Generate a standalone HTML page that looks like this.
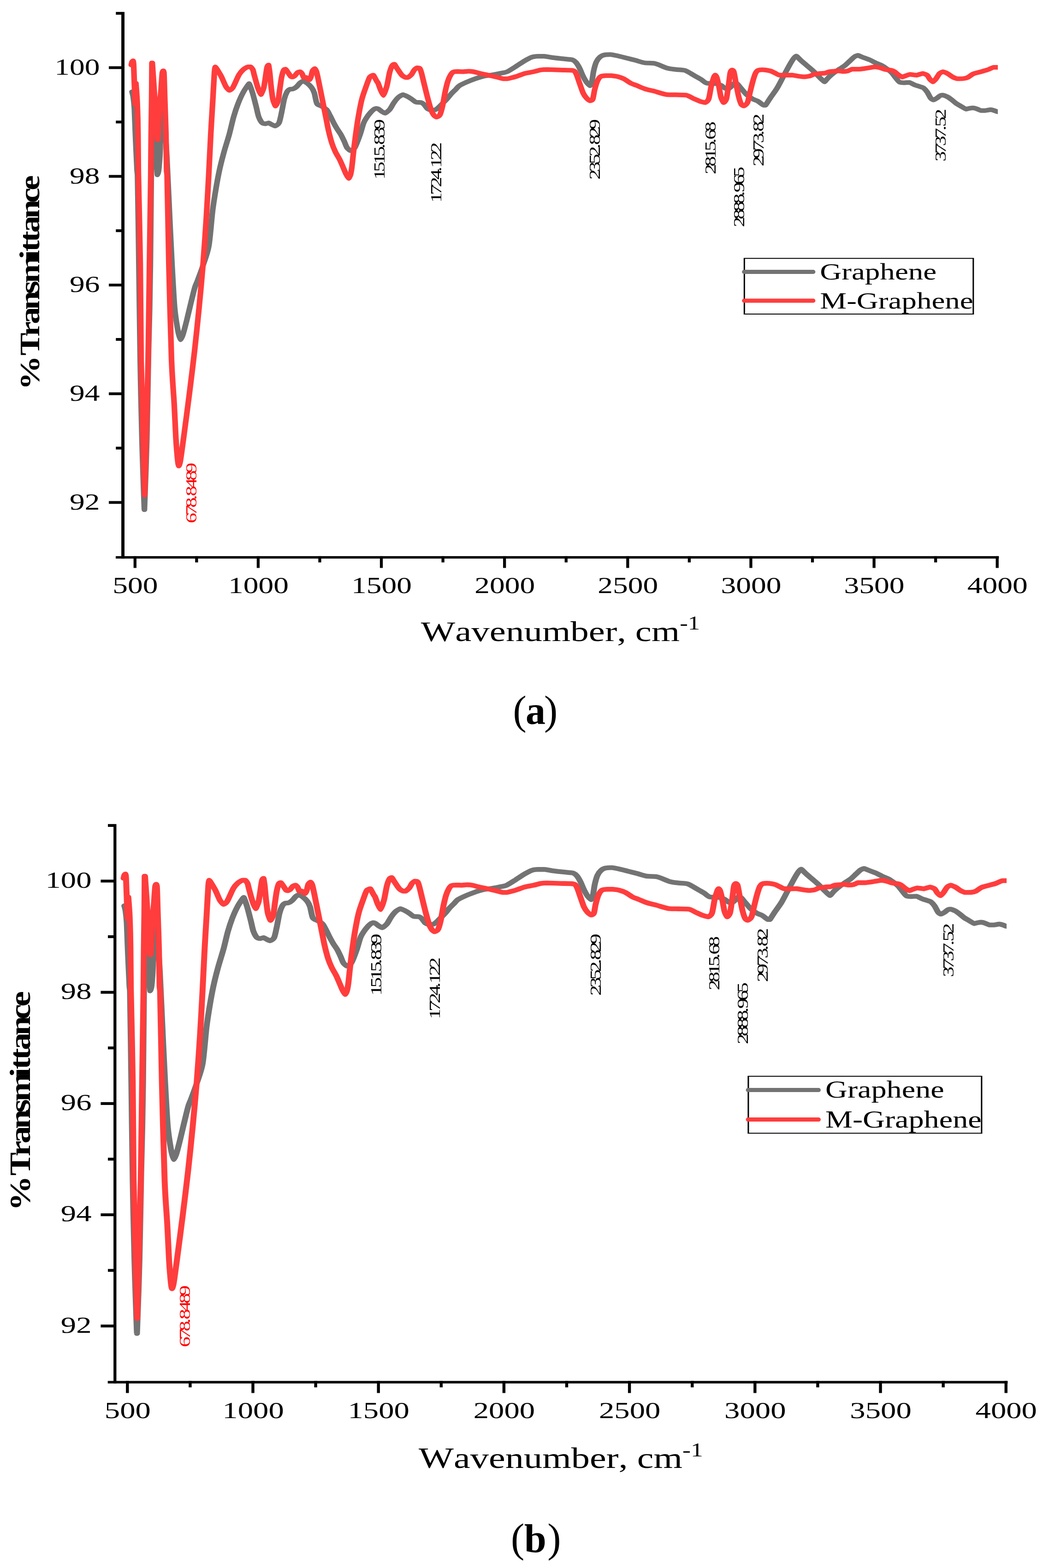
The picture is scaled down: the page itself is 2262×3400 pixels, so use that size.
<!DOCTYPE html>
<html lang="en"><head><meta charset="utf-8"><title>FTIR spectra of Graphene and M-Graphene</title>
<style>
html,body{margin:0;padding:0;background:#fff}
body{width:2262px;height:3400px;overflow:hidden}
svg{display:block}
text{font-family:"Liberation Serif","Times New Roman",serif;white-space:pre;font-kerning:none;font-variant-ligatures:none}
</style></head>
<body>
<svg width="2262" height="3400" viewBox="0 0 2262 3400">
<rect width="2262" height="3400" fill="#fff"/>
<clipPath id="clipa"><rect x="270" y="18.85" width="1894" height="1188.5"/></clipPath>
<g clip-path="url(#clipa)"><g transform="scale(1.23 1)" fill="none" stroke-width="10" stroke-linejoin="round" stroke-linecap="round">
<path stroke="#737373" d="M232.76 199.1C233.1 200.77 234.21 204.17 234.8 209.1C235.38 214.03 236.35 222.25 236.91 233.9C237.47 245.54 238.11 272.32 238.78 291.3C239.45 310.28 241.1 357.62 241.63 367.9C242.16 378.19 242.06 369.72 242.52 380C242.98 390.29 244.21 514.62 244.88 571.3C245.55 627.98 246.46 726.27 247.24 780.1C248.01 833.93 249.28 905.23 250.33 951.3C251.37 997.37 254.39 1105.3 254.63 1105.3C254.88 1105.3 257.83 1000.22 258.86 951.3C259.9 902.38 261.25 800.28 261.95 760C262.65 719.72 263.37 693.73 263.82 667C264.27 640.27 264.72 611.96 265.12 571.3C265.53 530.64 266.28 419.67 266.67 380C267.06 340.33 267.49 309.28 267.89 291.3C268.28 273.32 269.29 253.1 269.43 253.1C269.57 253.1 271.91 277.76 272.85 291.3C273.78 304.84 275.35 336.23 276.02 348.7C276.68 361.17 277.45 379.3 277.56 379.3C277.67 379.3 279.18 374.94 279.84 367.9C280.49 360.86 281.77 340.45 282.2 329.6C282.62 318.75 282.51 302.14 282.85 291.3C283.18 280.46 283.94 262.58 284.55 253.1C285.16 243.62 287.02 224.4 287.15 224.4C287.29 224.4 288.57 243.62 289.19 253.1C289.81 262.58 290.84 279.1 291.54 291.3C292.25 303.5 293.04 313.08 294.15 339.2C295.25 365.32 298.07 442.82 299.35 475.7C300.63 508.58 301.96 544.2 303.17 571.3C304.38 598.4 306.44 646.67 307.89 667C309.33 687.33 311.94 704.91 313.38 714.8C314.82 724.69 317.79 736.8 318.06 736.8C318.32 736.8 321.26 730.22 322.81 724.4C324.37 718.58 327.27 704.37 329.05 695.7C330.83 687.03 333.37 673.23 335.37 663.2C337.36 653.17 341.38 632.49 343.15 624.9C344.93 617.31 345.8 616.64 347.92 609.6C350.03 602.56 355.21 586.04 358.09 575.2C360.97 564.36 365.88 549.92 368.26 533.1C370.64 516.28 373.12 474.12 374.9 456.5C376.68 438.88 379.08 421.25 380.81 408.7C382.55 396.15 385.13 379.11 387.13 367.9C389.13 356.69 392.54 340.45 394.96 329.6C397.38 318.75 401.81 302.14 404.23 291.3C406.65 280.46 409.82 262.58 412.03 253.1C414.24 243.62 417.41 231.99 419.84 224.4C422.27 216.81 426.43 205.61 429.19 199.5C431.94 193.39 438.81 181.3 439.27 181.3C439.72 181.3 443.56 194.49 445.28 201.4C447.01 208.31 449.93 222.78 451.46 230.1C453 237.42 454.55 247.94 456.1 253.1C457.64 258.26 460.7 264.89 462.36 266.5C464.02 268.11 467.48 268.4 467.8 268.4C468.13 268.4 473.65 266.5 473.98 266.5C474.31 266.5 477.89 269.35 479.43 270.3C480.97 271.25 484.52 273.2 484.88 273.2C485.23 273.2 490.29 270.71 491.95 266.5C493.61 262.29 495.27 250.82 496.59 243.5C497.9 236.18 499.89 221.03 501.22 214.8C502.54 208.57 504.61 202.47 505.93 199.5C507.26 196.52 509.03 194.65 510.57 193.8C512.11 192.95 515.07 193.62 516.83 192.8C518.59 191.98 521.25 189.9 523.01 188C524.77 186.1 527.61 181.16 529.27 179.4C530.93 177.64 534.36 175.6 534.72 175.6C535.07 175.6 539.62 178.37 541.71 180.4C543.79 182.43 547.67 186.92 549.43 189.9C551.19 192.87 552.82 196.51 554.15 201.4C555.47 206.29 557.02 220.33 558.78 224.4C560.54 228.47 564.16 228.2 566.59 230.1C569.02 232 573.74 234.82 575.93 237.8C578.13 240.77 580.35 247.03 582.11 251.1C583.88 255.17 586.61 262.43 588.37 266.5C590.14 270.57 592.79 276.29 594.55 279.8C596.32 283.31 599.05 287.5 600.81 291.3C602.58 295.1 605.45 302.53 606.99 306.6C608.54 310.67 610.16 317.15 611.71 320C613.25 322.85 617.49 326.7 617.89 326.7C618.28 326.7 623.26 325.02 625.69 320C628.12 314.99 632.84 298.88 635.04 291.3C637.24 283.72 639.46 271.91 641.22 266.5C642.98 261.09 645.72 256.36 647.48 253.1C649.24 249.84 652.12 245.67 653.66 243.5C655.2 241.33 657.05 239.02 658.37 237.8C659.7 236.58 662.77 234.9 663.01 234.9C663.24 234.9 665.26 235.04 666.67 235.8C668.07 236.56 671.16 240.24 672.93 241.6C674.69 242.96 678.71 245.4 679.11 245.4C679.5 245.4 684.71 241.06 686.91 237.8C689.11 234.54 692.43 226.2 694.63 222.4C696.83 218.6 700.23 213.44 702.44 211C704.65 208.56 709.8 205.2 710.24 205.2C710.68 205.2 715.77 207.74 717.97 209.1C720.17 210.46 723.56 213.04 725.77 214.8C727.98 216.56 731.15 220.73 733.58 221.5C736.01 222.27 740.95 221.72 742.93 222.4C744.91 223.08 746.03 224.4 747.56 226.3C749.09 228.2 751.98 234.04 753.74 235.8C755.5 237.56 759.6 238.7 760 238.7C760.4 238.7 766.04 238.48 767.8 237.8C769.57 237.12 770.9 235.53 772.44 233.9C773.98 232.27 776.5 229.01 778.7 226.3C780.9 223.59 785.55 218.06 787.97 214.8C790.39 211.54 793.56 206.28 795.77 203.3C797.98 200.33 801.6 196.24 803.58 193.8C805.56 191.36 807.12 188.28 809.76 186.1C812.39 183.92 818.22 180.57 822.2 178.4C826.17 176.23 833.39 172.68 837.8 170.8C842.22 168.92 848.93 166.32 853.33 165.1C857.73 163.88 864.45 163.15 868.86 162.2C873.27 161.25 880.87 159.35 884.47 158.4C888.08 157.45 890.72 157.54 894.31 155.5C897.9 153.46 905.43 147.39 909.84 144C914.25 140.61 921.47 134.45 925.45 131.6C929.42 128.75 934.8 125.26 937.89 123.9C940.97 122.54 946.62 122 947.24 122C947.85 122 958.97 122 959.67 122C960.38 122 968.15 123.82 972.11 124.5C976.08 125.18 983.24 126.2 987.64 126.8C992.04 127.39 1000.08 128.29 1003.17 128.7C1006.26 129.11 1007.67 128.85 1009.43 129.7C1011.19 130.55 1013.85 132.84 1015.61 135.4C1017.37 137.96 1020.11 143.59 1021.87 147.8C1023.63 152.01 1026.29 160.76 1028.05 165.1C1029.81 169.43 1032.55 175.43 1034.31 178.4C1036.07 181.38 1040.22 186.1 1040.49 186.1C1040.75 186.1 1042.77 181.1 1043.66 176.5C1044.55 171.9 1045.65 159.56 1046.75 153.6C1047.84 147.64 1049.84 138.61 1051.38 134.4C1052.93 130.19 1055.65 126.07 1057.64 123.9C1059.63 121.73 1062.8 119.87 1065.45 119.1C1068.1 118.33 1075.68 118.2 1076.34 118.2C1077 118.2 1084.82 119.92 1088.78 121C1092.74 122.08 1099.91 124.44 1104.31 125.8C1108.71 127.16 1115.14 129.1 1119.84 130.6C1124.54 132.1 1132.77 135.64 1137.48 136.4C1142.19 137.16 1147.57 136.53 1153.09 137.3C1158.61 138.06 1170.92 145.9 1176.42 147.8C1181.93 149.7 1187.55 150.02 1191.95 150.7C1196.35 151.38 1203.07 150.99 1207.48 152.6C1211.89 154.21 1219.12 160.39 1223.09 163.1C1227.06 165.81 1232.22 169.25 1235.53 171.7C1238.83 174.15 1242.68 179.63 1246.42 180.4C1250.17 181.17 1258.43 180.63 1261.95 181.3C1265.48 181.97 1268.88 183.61 1271.3 185.1C1273.72 186.59 1277.26 190.95 1279.02 191.8C1280.79 192.65 1283.43 192.8 1283.74 192.8C1284.05 192.8 1288.38 188.86 1289.92 187.1C1291.46 185.34 1294.37 180.4 1294.63 180.4C1294.9 180.4 1297.72 180.54 1299.27 181.3C1300.81 182.07 1303.1 186.51 1305.53 189.9C1307.96 193.29 1313.34 201.67 1316.42 205.2C1319.51 208.73 1324.46 212.76 1327.32 214.8C1330.17 216.84 1333.95 217.7 1336.59 219.6C1339.22 221.5 1345.57 228.2 1345.93 228.2C1346.3 228.2 1349.22 228.2 1349.59 228.2C1349.96 228.2 1356.08 216.16 1358.94 211C1361.81 205.84 1366.75 198.03 1369.84 191.8C1372.92 185.57 1377.64 174.04 1380.73 167C1383.82 159.96 1388.99 147.8 1391.63 142.1C1394.26 136.41 1397.59 129.73 1399.35 126.8C1401.11 123.87 1403.71 121.4 1404.07 121.4C1404.42 121.4 1409.15 127.67 1411.79 130.6C1414.43 133.53 1419.6 138.84 1422.68 142.1C1425.77 145.36 1430.27 149.8 1433.58 153.6C1436.88 157.4 1443.15 165.51 1446.02 168.9C1448.88 172.29 1453.38 177.5 1453.82 177.5C1454.26 177.5 1459.21 169.85 1461.63 167C1464.04 164.15 1468.26 159.85 1470.89 157.4C1473.53 154.95 1477.59 151.87 1480.24 149.7C1482.89 147.53 1486.94 144.66 1489.59 142.1C1492.24 139.54 1496.52 134.31 1498.94 131.6C1501.36 128.89 1504.69 124.63 1506.67 123C1508.65 121.37 1512.53 120.1 1512.93 120.1C1513.33 120.1 1517.86 122.54 1520.73 123.9C1523.6 125.26 1529.87 127.93 1533.17 129.7C1536.48 131.47 1540.98 134.64 1544.07 136.4C1547.15 138.16 1552.1 140.22 1554.96 142.1C1557.82 143.98 1561.81 147.53 1564.23 149.7C1566.65 151.87 1569.83 154.62 1572.03 157.4C1574.23 160.18 1577.69 166.32 1579.76 169.3C1581.82 172.27 1584.52 177.55 1586.59 178.4C1588.65 179.25 1593.83 179.4 1594.31 179.4C1594.79 179.4 1603.13 178.8 1603.66 178.8C1604.19 178.8 1610.36 182.9 1613.01 184.2C1615.66 185.5 1620.16 187.05 1622.36 188C1624.56 188.95 1626.77 189.27 1628.54 190.9C1630.3 192.53 1633.03 196.38 1634.8 199.5C1636.56 202.62 1639.43 210.46 1640.98 212.9C1642.52 215.34 1645.38 216.7 1645.69 216.7C1646 216.7 1650.11 214.26 1651.87 212.9C1653.63 211.54 1656.59 207.87 1658.13 207.1C1659.67 206.33 1662.41 206.2 1662.76 206.2C1663.12 206.2 1668.36 208.51 1670.57 210C1672.78 211.49 1676.17 214.66 1678.37 216.7C1680.57 218.74 1683.9 222.5 1686.1 224.4C1688.3 226.3 1691.47 228.34 1693.9 230.1C1696.33 231.86 1702.81 236.8 1703.25 236.8C1703.69 236.8 1707.67 235.31 1709.43 234.9C1711.19 234.49 1715.34 233.9 1715.69 233.9C1716.04 233.9 1719.89 234.98 1721.87 235.8C1723.85 236.62 1729.23 239.7 1729.67 239.7C1730.12 239.7 1737 239.7 1737.48 239.7C1737.96 239.7 1746.31 237.8 1746.75 237.8C1747.19 237.8 1751.23 239.03 1753.01 239.7C1754.78 240.37 1757.07 241.96 1759.27 242.5C1761.47 243.04 1766.99 243.33 1768.54 243.5"/>
<path stroke="#ff3d3d" d="M231.46 140.8C231.68 139.73 232.34 135.68 232.76 134.4C233.19 133.13 234.39 131.8 234.47 131.8C234.55 131.8 235.21 132.78 235.53 138.3C235.85 143.83 236.34 164.03 236.75 176.5C237.15 188.97 238.31 226.3 238.37 226.3C238.44 226.3 238.77 213.6 238.94 207.1C239.12 200.6 239.54 180.4 239.59 180.4C239.65 180.4 240.48 193.55 240.81 199.5C241.15 205.45 241.66 214.27 241.95 222.4C242.24 230.53 242.65 247.14 242.85 256.9C243.04 266.66 243.18 275.58 243.33 291.3C243.48 307.03 243.8 357.62 243.9 367.9C244.01 378.19 243.93 369.72 244.07 380C244.2 390.29 246.57 514.62 247.24 571.3C247.9 627.98 248.19 731.68 248.78 780.1C249.37 828.52 250.51 871.49 251.38 913.1C252.26 954.71 254.76 1073.8 254.96 1073.8C255.16 1073.8 257.65 954.71 258.54 913.1C259.42 871.49 260.51 828.52 261.22 780.1C261.93 731.68 262.92 627.98 263.58 571.3C264.23 514.62 265.44 419.67 265.85 380C266.27 340.33 266.29 314.7 266.5 291.3C266.72 267.9 267.2 236.74 267.4 214.8C267.59 192.86 267.85 136.4 267.89 136.4C267.92 136.4 268.43 136.4 268.54 136.4C268.65 136.4 271.61 191.23 272.85 214.8C274.08 238.37 277.08 302.8 277.24 302.8C277.39 302.8 278.21 302.8 278.29 302.8C278.37 302.8 279.42 274.8 280 262.6C280.58 250.4 281.8 226.18 282.36 216.7C282.91 207.22 283.35 204.1 283.9 195.7C284.46 187.3 285.68 160.8 286.26 157.4C286.84 154 287.89 153.4 287.97 153.4C288.05 153.4 288.66 154 289.02 157.4C289.39 160.8 290.06 195.83 290.57 214.8C291.08 233.77 292.15 269.61 292.6 291.3C293.05 312.99 293.45 357.62 293.74 367.9C294.03 378.19 294.07 369.72 294.63 380C295.2 390.29 296.62 514.62 297.72 571.3C298.83 627.98 301.11 737.1 302.44 780.1C303.76 823.1 305.98 850.55 307.07 874.8C308.17 899.05 309.29 933.68 310.18 951.3C311.07 968.92 312.66 990.8 313.38 999.2C314.1 1007.6 315.14 1010.6 315.27 1010.6C315.4 1010.6 316.88 1007.6 318.06 999.2C319.23 990.8 321.33 971.63 323.55 951.3C325.77 930.97 330.95 882.8 333.72 855.7C336.5 828.6 340.7 786.73 343.15 760C345.61 733.27 348.92 693.73 351.03 667C353.15 640.27 356.31 598.4 358.09 571.3C359.87 544.2 362.18 502.8 363.59 475.7C364.99 448.6 366.88 406.12 368.02 380C369.16 353.88 370.59 314.7 371.63 291.3C372.66 267.9 374.41 233.77 375.32 214.8C376.22 195.83 377.42 167.29 378.02 157.4C378.63 147.51 379.45 145 379.58 145C379.7 145 380.94 146.73 382.45 149.7C383.96 152.68 388.03 160.7 390.24 166C392.45 171.3 396.07 182.85 398.05 187.1C400.03 191.35 403.88 196 404.23 196C404.58 196 408.06 194.69 410.49 189.9C412.92 185.11 418.73 167.75 421.38 162.2C424.03 156.65 426.99 153.14 429.19 150.7C431.39 148.26 436.54 145 436.91 145C437.28 145 441.86 145 442.11 145C442.37 145 445.13 149.14 446.02 151.7C446.9 154.26 447.16 157.69 448.37 163.1C449.58 168.51 452.91 183.94 454.55 189.9C456.2 195.86 459.71 205.2 460 205.2C460.29 205.2 463.72 195.87 464.72 191.8C465.71 187.73 466.12 183 466.99 176.5C467.87 170 469.96 149.98 470.89 145.9C471.83 141.82 473.44 141.1 473.58 141.1C473.71 141.1 475 151.03 475.61 157.4C476.22 163.78 477.11 177.97 477.89 186.1C478.66 194.23 479.95 208.57 481.06 214.8C482.16 221.03 485.43 230.1 485.69 230.1C485.95 230.1 489.22 224.03 490.33 218.6C491.43 213.17 492.61 199.11 493.5 191.8C494.38 184.49 495.59 172.68 496.59 167C497.58 161.32 499.5 153.06 500.49 151.7C501.48 150.34 503.34 150.1 503.58 150.1C503.82 150.1 507.7 157.05 509.02 159.3C510.35 161.55 511.94 165.15 512.93 166C513.92 166.85 515.82 167 516.02 167C516.21 167 518.71 165.46 519.92 164.1C521.13 162.74 523.23 158.62 524.55 157.4C525.88 156.18 529.05 155.5 529.27 155.5C529.49 155.5 531.48 157.54 532.36 159.3C533.23 161.06 535.23 167.9 535.45 167.9C535.67 167.9 539.94 167.9 540.16 167.9C540.38 167.9 542.38 171.02 543.25 171.7C544.13 172.38 546.19 172.7 546.34 172.7C546.5 172.7 548.03 167.81 548.7 165.1C549.37 162.39 550.18 155.91 551.06 153.6C551.93 151.29 554.68 148.8 554.88 148.8C555.08 148.8 557.06 151.58 558.05 155.5C559.04 159.42 560.44 168.1 561.87 176.5C563.3 184.9 566.36 203.95 568.13 214.8C569.9 225.65 572.85 243.61 574.39 253.1C575.93 262.59 577.49 273.67 579.02 281.8C580.56 289.93 583.44 303.73 585.2 310.5C586.97 317.27 589.47 324.46 591.46 329.6C593.46 334.74 597.29 341.93 599.27 346.8C601.25 351.67 603.9 359.67 605.45 364C606.99 368.34 608.84 374.14 610.16 377.4C611.49 380.66 614.58 387 614.8 387C615.02 387 617.11 382.56 617.89 379.3C618.66 376.04 619.47 371.04 620.24 364C621.02 356.96 622.34 339.9 623.33 329.6C624.32 319.3 626.03 302.14 627.24 291.3C628.45 280.46 630.33 263.94 631.87 253.1C633.41 242.26 636.14 224.29 638.13 214.8C640.12 205.31 643.95 192.87 645.93 186.1C647.92 179.33 650.35 170.26 652.11 167C653.88 163.74 658.02 163.1 658.37 163.1C658.73 163.1 663.38 174.05 664.55 176.5C665.73 178.95 665.71 177.68 666.67 180.4C667.62 183.12 669.98 191.92 671.3 195.7C672.63 199.48 675.71 207.1 676.02 207.1C676.32 207.1 680.65 193.14 682.2 186.1C683.74 179.06 685.59 163.63 686.91 157.4C688.24 151.17 690.34 144.57 691.54 142.1C692.75 139.63 695.18 139.2 695.45 139.2C695.71 139.2 699.02 146.31 700.89 149.7C702.77 153.09 706.72 160.52 708.7 163.1C710.68 165.68 714.57 167.9 714.88 167.9C715.19 167.9 719.28 167.9 719.59 167.9C719.9 167.9 724.24 163.49 725.77 161.2C727.3 158.9 729.08 153.73 730.41 151.7C731.73 149.67 734.86 146.9 735.12 146.9C735.39 146.9 738.65 147.03 739.76 147.8C740.86 148.57 741.82 152.78 742.93 157.4C744.03 162.02 746.03 172.81 747.56 180.4C749.09 187.99 751.98 202.87 753.74 211C755.5 219.13 758.46 232.39 760 237.8C761.54 243.21 763.31 246.9 764.63 249.2C765.96 251.49 769.04 254 769.35 254C769.66 254 773.99 252.59 775.53 249.2C777.07 245.81 778.92 237.14 780.24 230.1C781.57 223.06 783.57 207.09 784.88 199.5C786.19 191.91 788.19 181.66 789.51 176.5C790.84 171.34 792.9 165.95 794.23 163.1C795.55 160.25 797.1 157.51 798.86 156.4C800.62 155.29 806.18 155.1 806.67 155.1C807.15 155.1 815.49 155.5 816.02 155.5C816.55 155.5 824.84 154.5 825.37 154.5C825.89 154.5 831.78 154.88 834.63 155.5C837.49 156.12 841.77 157.82 845.53 158.9C849.28 159.98 856.95 161.95 861.14 163.1C865.33 164.25 871.38 165.91 875.12 167C878.87 168.09 887.02 170.8 887.56 170.8C888.1 170.8 893.68 170.8 894.31 170.8C894.94 170.8 905.43 167.63 909.84 166C914.25 164.37 921.04 160.79 925.45 159.3C929.86 157.81 937.01 156.58 940.98 155.5C944.94 154.42 950.11 152.38 953.41 151.7C956.72 151.02 963.34 150.7 964.31 150.7C965.28 150.7 981.25 151.43 987.64 151.7C994.03 151.97 1005.47 151.84 1009.43 152.6C1013.39 153.36 1013.85 155.36 1015.61 159.3C1017.37 163.24 1020.11 174.44 1021.87 180.4C1023.63 186.36 1026.29 196.8 1028.05 201.4C1029.81 206 1032.55 210.46 1034.31 212.9C1036.07 215.34 1040.18 218.6 1040.49 218.6C1040.8 218.6 1044.1 218.03 1045.2 214.8C1046.31 211.57 1047.19 201.13 1048.29 195.7C1049.4 190.27 1051.46 180.71 1053.01 176.5C1054.55 172.29 1056.99 167.62 1059.19 166C1061.39 164.39 1068.01 164.1 1068.54 164.1C1069.07 164.1 1077.31 164.1 1077.89 164.1C1078.46 164.1 1085.69 165.05 1088.78 166C1091.87 166.95 1096.37 168.76 1099.67 170.8C1102.98 172.84 1108.96 178.37 1112.11 180.4C1115.27 182.43 1118.36 183.34 1121.95 185.1C1125.54 186.86 1133.07 191.03 1137.48 192.8C1141.89 194.57 1147.57 195.84 1153.09 197.6C1158.61 199.36 1170.92 204.86 1176.42 205.2C1181.93 205.54 1187.33 205.46 1191.95 205.6C1196.57 205.74 1204.61 205.69 1209.02 206.2C1213.44 206.71 1219.55 211.9 1223.09 213.8C1226.63 215.7 1231.13 218.38 1233.98 219.6C1236.84 220.82 1242.81 222.4 1243.25 222.4C1243.69 222.4 1247.97 219.94 1249.51 214.8C1251.06 209.66 1252.87 192.74 1254.15 186.1C1255.42 179.46 1257.55 171.2 1258.54 167.9C1259.53 164.6 1260.99 162.8 1261.14 162.8C1261.29 162.8 1262.93 164.6 1263.82 167.9C1264.71 171.2 1266.34 179.99 1267.4 186.1C1268.46 192.21 1270.09 205.86 1271.3 211C1272.51 216.14 1275.67 222.4 1275.93 222.4C1276.2 222.4 1279.44 219.94 1280.65 214.8C1281.86 209.66 1283.48 194.23 1284.47 186.1C1285.46 177.97 1286.76 162.25 1287.64 157.4C1288.53 152.56 1290.56 151.7 1290.73 151.7C1290.91 151.7 1292.83 152.27 1293.82 155.5C1294.81 158.73 1296.51 172.81 1297.72 180.4C1298.93 187.99 1301.03 202.6 1302.36 209.1C1303.68 215.6 1305.75 223.41 1307.07 226.3C1308.4 229.19 1311.4 229.7 1311.71 229.7C1312.02 229.7 1316.42 226.68 1317.97 222.4C1319.51 218.12 1321.28 206 1322.6 199.5C1323.93 193 1325.99 182.19 1327.32 176.5C1328.64 170.81 1330.64 162.69 1331.95 159.3C1333.26 155.91 1334.82 153.7 1336.59 152.6C1338.35 151.49 1344.02 151.3 1344.39 151.3C1344.76 151.3 1347.53 151.36 1349.59 151.7C1351.66 152.04 1356.52 153.05 1358.94 154C1361.36 154.95 1364.47 157.15 1366.67 158.4C1368.87 159.65 1371.82 162.55 1374.47 162.8C1377.12 163.06 1384.75 163.1 1385.37 163.1C1385.98 163.1 1395.6 162.8 1396.26 162.8C1396.92 162.8 1405.61 164.86 1408.7 165.4C1411.79 165.94 1417.52 166.6 1418.05 166.6C1418.58 166.6 1424.98 165.86 1427.4 165.1C1429.82 164.33 1432.48 162.02 1435.12 161.2C1437.76 160.38 1443.15 159.7 1446.02 159.3C1448.88 158.9 1453.15 158.94 1455.37 158.4C1457.58 157.86 1459.43 156.05 1461.63 155.5C1463.83 154.95 1468.48 154.77 1470.89 154.5C1473.31 154.23 1478.26 153.6 1478.7 153.6C1479.14 153.6 1486.06 155.1 1486.5 155.1C1486.94 155.1 1492.03 154.81 1494.23 154.1C1496.43 153.39 1501.46 150.1 1502.03 150.1C1502.61 150.1 1513.85 150.1 1514.47 150.1C1515.09 150.1 1521.17 149.25 1523.82 148.8C1526.47 148.35 1530.53 147.44 1533.17 146.9C1535.81 146.36 1541.91 145 1542.44 145C1542.97 145 1549.14 146.09 1551.79 146.9C1554.44 147.71 1558.27 149.89 1561.14 150.7C1564.01 151.51 1569.75 151.92 1572.03 152.6C1574.31 153.28 1575.39 154.01 1577.24 155.5C1579.08 156.99 1583.06 161.47 1585.04 163.1C1587.02 164.73 1590.87 167 1591.22 167C1591.57 167 1595.6 164.92 1597.48 164.1C1599.36 163.28 1603.94 161.2 1604.47 161.2C1605 161.2 1615.46 163.1 1616.1 163.1C1616.74 163.1 1626.46 159.3 1626.99 159.3C1627.52 159.3 1633.03 161.34 1634.8 163.1C1636.56 164.86 1638 169.66 1639.43 171.7C1640.86 173.74 1644.57 177.5 1644.88 177.5C1645.19 177.5 1648.67 173.38 1650.33 170.8C1651.98 168.22 1654.82 161.47 1656.59 159.3C1658.35 157.13 1662.37 155.5 1662.76 155.5C1663.16 155.5 1668.14 157.67 1670.57 159.3C1673 160.93 1677.5 165.37 1679.92 167C1682.34 168.63 1687.11 170.8 1687.64 170.8C1688.17 170.8 1695.89 170.74 1698.54 170.4C1701.19 170.06 1703.91 169.33 1706.34 167.9C1708.77 166.47 1712.82 161.93 1715.69 160.3C1718.56 158.67 1723.06 157.62 1726.59 156.4C1730.11 155.18 1737.04 153.19 1740.57 151.7C1744.09 150.21 1750.93 145.9 1751.46 145.9C1751.99 145.9 1758.78 145.9 1759.27 145.9C1759.75 145.9 1766.99 145.9 1768.54 145.9"/>
</g></g>
<g fill="#000">
<rect x="263.1" y="25.85" width="6.9" height="1185.35"/>
<rect x="251" y="1205.9" width="1915.3" height="5.3"/>
<rect x="236" y="1086.5" width="28.1" height="6"/>
<rect x="251.3" y="968.65" width="12.8" height="6"/>
<rect x="236" y="850.8" width="28.1" height="6"/>
<rect x="251.3" y="732.95" width="12.8" height="6"/>
<rect x="236" y="615.1" width="28.1" height="6"/>
<rect x="251.3" y="497.25" width="12.8" height="6"/>
<rect x="236" y="379.4" width="28.1" height="6"/>
<rect x="251.3" y="261.55" width="12.8" height="6"/>
<rect x="236" y="143.7" width="28.1" height="6"/>
<rect x="251.3" y="25.85" width="12.8" height="6"/>
<rect x="289.65" y="1205.9" width="6.3" height="25.6"/>
<rect x="423.22" y="1205.9" width="6.3" height="13.6"/>
<rect x="556.78" y="1205.9" width="6.3" height="25.6"/>
<rect x="690.35" y="1205.9" width="6.3" height="13.6"/>
<rect x="823.91" y="1205.9" width="6.3" height="25.6"/>
<rect x="957.48" y="1205.9" width="6.3" height="13.6"/>
<rect x="1091.04" y="1205.9" width="6.3" height="25.6"/>
<rect x="1224.6" y="1205.9" width="6.3" height="13.6"/>
<rect x="1358.17" y="1205.9" width="6.3" height="25.6"/>
<rect x="1491.73" y="1205.9" width="6.3" height="13.6"/>
<rect x="1625.3" y="1205.9" width="6.3" height="25.6"/>
<rect x="1758.86" y="1205.9" width="6.3" height="13.6"/>
<rect x="1892.43" y="1205.9" width="6.3" height="25.6"/>
<rect x="2025.99" y="1205.9" width="6.3" height="13.6"/>
<rect x="2159.56" y="1205.9" width="6.3" height="25.6"/>
</g>
<g font-family="'Liberation Serif', 'Times New Roman', serif">
<text transform="translate(293.3 1286) scale(1.31 1)" font-size="50" text-anchor="middle" fill="#000">500</text>
<text transform="translate(560.43 1286) scale(1.31 1)" font-size="50" text-anchor="middle" fill="#000">1000</text>
<text transform="translate(827.56 1286) scale(1.31 1)" font-size="50" text-anchor="middle" fill="#000">1500</text>
<text transform="translate(1094.69 1286) scale(1.31 1)" font-size="50" text-anchor="middle" fill="#000">2000</text>
<text transform="translate(1361.82 1286) scale(1.31 1)" font-size="50" text-anchor="middle" fill="#000">2500</text>
<text transform="translate(1628.95 1286) scale(1.31 1)" font-size="50" text-anchor="middle" fill="#000">3000</text>
<text transform="translate(1896.08 1286) scale(1.31 1)" font-size="50" text-anchor="middle" fill="#000">3500</text>
<text transform="translate(2163.21 1286) scale(1.31 1)" font-size="50" text-anchor="middle" fill="#000">4000</text>
<text transform="translate(216.5 1104.7) scale(1.31 1)" font-size="50" text-anchor="end" fill="#000">92</text>
<text transform="translate(216.5 869) scale(1.31 1)" font-size="50" text-anchor="end" fill="#000">94</text>
<text transform="translate(216.5 633.3) scale(1.31 1)" font-size="50" text-anchor="end" fill="#000">96</text>
<text transform="translate(216.5 397.6) scale(1.31 1)" font-size="50" text-anchor="end" fill="#000">98</text>
<text transform="translate(216.5 161.9) scale(1.31 1)" font-size="50" text-anchor="end" fill="#000">100</text>
<text transform="translate(1215.5 1390.3) scale(1.274 1)" font-size="62" text-anchor="middle">Wavenumber, cm<tspan font-size="41.54" dy="-24.99">-1</tspan></text>
<text transform="translate(85 845.5) rotate(-90) scale(1.2 1)" font-size="62" font-weight="bold" fill="#000" x="0 62.17 96.29 119 144.58 173.04 192.95 235.57 249.79 266.83 283.87 309.45 337.9 360.61">%Transmittance</text>
<text transform="translate(426 1134.5) rotate(-90) scale(1.33 1)" font-size="34" fill="#ff0000" x="0 12.59 25.18 37.77 44.07 56.66 69.25 81.84">678.8489</text>
<text transform="translate(833.7 389.5) rotate(-90) scale(1.33 1)" font-size="34" fill="#000" x="0 12.59 25.18 37.77 50.36 56.66 69.25 81.84">1515.839</text>
<text transform="translate(957.4 439.5) rotate(-90) scale(1.33 1)" font-size="34" fill="#000" x="0 12.59 25.18 37.77 50.36 56.66 69.25 81.84">1724.122</text>
<text transform="translate(1300.5 389.5) rotate(-90) scale(1.33 1)" font-size="34" fill="#000" x="0 12.59 25.18 37.77 50.36 56.66 69.25 81.84">2352.829</text>
<text transform="translate(1552.2 378) rotate(-90) scale(1.33 1)" font-size="34" fill="#000" x="0 12.59 25.18 37.77 50.36 56.66 69.25">2815.68</text>
<text transform="translate(1613.8 492.5) rotate(-90) scale(1.33 1)" font-size="34" fill="#000" x="0 12.59 25.18 37.77 50.36 56.66 69.25 81.84">2888.965</text>
<text transform="translate(1655.5 360.8) rotate(-90) scale(1.33 1)" font-size="34" fill="#000" x="0 12.59 25.18 37.77 50.36 56.66 69.25">2973.82</text>
<text transform="translate(2050.6 350.3) rotate(-90) scale(1.33 1)" font-size="34" fill="#000" x="0 12.59 25.18 37.77 50.36 56.66 69.25">3737.52</text>
<path fill="#000" fill-rule="evenodd" d="M1612.8 559.3H2112.3V682H1612.8ZM1615.8 561.3V680H2109.3V561.3Z"/>
<line x1="1613.5" x2="1764" y1="589.5" y2="589.5" stroke="#737373" stroke-width="8.8" stroke-linecap="round"/>
<text transform="translate(1778.3 605.7) scale(1.276 1)" font-size="51" text-anchor="start" fill="#000">Graphene</text>
<line x1="1613.5" x2="1764" y1="652" y2="652" stroke="#ff3d3d" stroke-width="8.8" stroke-linecap="round"/>
<text transform="translate(1778.3 669.3) scale(1.276 1)" font-size="51" text-anchor="start" fill="#000">M-Graphene</text>
</g>
<text x="1112.6 1139.9 1180" y="1570" font-family="'Liberation Serif', 'Times New Roman', serif" font-size="88">(<tspan font-weight="bold" font-size="86">a</tspan>)</text>
<g transform="matrix(1.019 0 0 1.0233 -22.06 1760.38)">
<clipPath id="clipb"><rect x="269.4" y="18.85" width="1894.6" height="1188.5"/></clipPath>
<g clip-path="url(#clipb)"><g transform="scale(1.25 1)" fill="none" stroke-width="10.15" stroke-linejoin="round" stroke-linecap="round">
<path stroke="#737373" d="M229.04 199.1C229.37 200.77 230.46 204.17 231.04 209.1C231.62 214.03 232.56 222.25 233.12 233.9C233.68 245.54 234.3 272.32 234.96 291.3C235.62 310.28 237.24 357.62 237.76 367.9C238.28 378.19 238.19 369.72 238.64 380C239.09 390.29 240.3 514.62 240.96 571.3C241.62 627.98 242.52 726.27 243.28 780.1C244.04 833.93 245.29 905.23 246.32 951.3C247.35 997.37 250.32 1105.3 250.56 1105.3C250.8 1105.3 253.7 1000.22 254.72 951.3C255.74 902.38 257.07 800.28 257.76 760C258.45 719.72 259.16 693.73 259.6 667C260.04 640.27 260.48 611.96 260.88 571.3C261.28 530.64 262.01 419.67 262.4 380C262.79 340.33 263.21 309.28 263.6 291.3C263.99 273.32 264.98 253.1 265.12 253.1C265.26 253.1 267.56 277.76 268.48 291.3C269.4 304.84 270.94 336.23 271.6 348.7C272.26 361.17 273.01 379.3 273.12 379.3C273.23 379.3 274.71 374.94 275.36 367.9C276.01 360.86 277.26 340.45 277.68 329.6C278.1 318.75 277.99 302.14 278.32 291.3C278.65 280.46 279.4 262.58 280 253.1C280.6 243.62 282.43 224.4 282.56 224.4C282.69 224.4 283.95 243.62 284.56 253.1C285.17 262.58 286.19 279.1 286.88 291.3C287.57 303.5 288.35 313.08 289.44 339.2C290.53 365.32 293.3 442.82 294.56 475.7C295.82 508.58 297.13 544.2 298.32 571.3C299.51 598.4 301.54 646.67 302.96 667C304.38 687.33 306.95 704.91 308.37 714.8C309.79 724.69 312.71 736.8 312.97 736.8C313.23 736.8 316.12 730.22 317.65 724.4C319.18 718.58 322.03 704.37 323.78 695.7C325.53 687.03 328.03 673.23 330 663.2C331.97 653.17 335.91 632.49 337.66 624.9C339.41 617.31 340.27 616.64 342.35 609.6C344.43 602.56 349.52 586.04 352.36 575.2C355.2 564.36 360.02 549.92 362.37 533.1C364.71 516.28 367.15 474.12 368.9 456.5C370.65 438.88 373.02 421.25 374.72 408.7C376.42 396.15 378.96 379.11 380.94 367.9C382.91 356.69 386.26 340.45 388.64 329.6C391.02 318.75 395.38 302.14 397.76 291.3C400.14 280.46 403.26 262.58 405.44 253.1C407.62 243.62 410.73 231.99 413.12 224.4C415.51 216.81 419.61 205.61 422.32 199.5C425.03 193.39 431.79 181.3 432.24 181.3C432.69 181.3 436.46 194.49 438.16 201.4C439.86 208.31 442.73 222.78 444.24 230.1C445.75 237.42 447.28 247.94 448.8 253.1C450.32 258.26 453.33 264.89 454.96 266.5C456.59 268.11 460 268.4 460.32 268.4C460.64 268.4 466.08 266.5 466.4 266.5C466.72 266.5 470.24 269.35 471.76 270.3C473.28 271.25 476.77 273.2 477.12 273.2C477.47 273.2 482.45 270.71 484.08 266.5C485.71 262.29 487.35 250.82 488.64 243.5C489.93 236.18 491.9 221.03 493.2 214.8C494.5 208.57 496.54 202.47 497.84 199.5C499.14 196.52 500.88 194.65 502.4 193.8C503.92 192.95 506.83 193.62 508.56 192.8C510.29 191.98 512.91 189.9 514.64 188C516.37 186.1 519.17 181.16 520.8 179.4C522.43 177.64 525.81 175.6 526.16 175.6C526.51 175.6 530.99 178.37 533.04 180.4C535.09 182.43 538.91 186.92 540.64 189.9C542.37 192.87 543.98 196.51 545.28 201.4C546.58 206.29 548.11 220.33 549.84 224.4C551.57 228.47 555.13 228.2 557.52 230.1C559.91 232 564.56 234.82 566.72 237.8C568.88 240.77 571.07 247.03 572.8 251.1C574.53 255.17 577.23 262.43 578.96 266.5C580.69 270.57 583.31 276.29 585.04 279.8C586.77 283.31 589.47 287.5 591.2 291.3C592.93 295.1 595.76 302.53 597.28 306.6C598.8 310.67 600.4 317.15 601.92 320C603.44 322.85 607.61 326.7 608 326.7C608.39 326.7 613.29 325.02 615.68 320C618.07 314.99 622.72 298.88 624.88 291.3C627.04 283.72 629.23 271.91 630.96 266.5C632.69 261.09 635.39 256.36 637.12 253.1C638.85 249.84 641.68 245.67 643.2 243.5C644.72 241.33 646.54 239.02 647.84 237.8C649.14 236.58 652.17 234.9 652.4 234.9C652.63 234.9 654.62 235.04 656 235.8C657.38 236.56 660.43 240.24 662.16 241.6C663.89 242.96 667.85 245.4 668.24 245.4C668.63 245.4 673.76 241.06 675.92 237.8C678.08 234.54 681.36 226.2 683.52 222.4C685.68 218.6 689.02 213.44 691.2 211C693.38 208.56 698.45 205.2 698.88 205.2C699.31 205.2 704.32 207.74 706.48 209.1C708.64 210.46 711.98 213.04 714.16 214.8C716.34 216.56 719.45 220.73 721.84 221.5C724.23 222.27 729.09 221.72 731.04 222.4C732.99 223.08 734.09 224.4 735.6 226.3C737.11 228.2 739.95 234.04 741.68 235.8C743.41 237.56 747.45 238.7 747.84 238.7C748.23 238.7 753.79 238.48 755.52 237.8C757.25 237.12 758.56 235.53 760.08 233.9C761.6 232.27 764.08 229.01 766.24 226.3C768.4 223.59 772.98 218.06 775.36 214.8C777.74 211.54 780.86 206.28 783.04 203.3C785.22 200.33 788.77 196.24 790.72 193.8C792.67 191.36 794.2 188.28 796.8 186.1C799.4 183.92 805.13 180.57 809.04 178.4C812.95 176.23 820.06 172.68 824.4 170.8C828.74 168.92 835.35 166.32 839.68 165.1C844.01 163.88 850.62 163.15 854.96 162.2C859.3 161.25 866.77 159.35 870.32 158.4C873.87 157.45 876.46 157.54 880 155.5C883.54 153.46 890.94 147.39 895.28 144C899.62 140.61 906.73 134.45 910.64 131.6C914.55 128.75 919.84 125.26 922.88 123.9C925.92 122.54 931.47 122 932.08 122C932.69 122 943.63 122 944.32 122C945.01 122 952.66 123.82 956.56 124.5C960.46 125.18 967.51 126.2 971.84 126.8C976.17 127.39 984.08 128.29 987.12 128.7C990.16 129.11 991.55 128.85 993.28 129.7C995.01 130.55 997.63 132.84 999.36 135.4C1001.09 137.96 1003.79 143.59 1005.52 147.8C1007.25 152.01 1009.87 160.76 1011.6 165.1C1013.33 169.43 1016.03 175.43 1017.76 178.4C1019.49 181.38 1023.58 186.1 1023.84 186.1C1024.1 186.1 1026.09 181.1 1026.96 176.5C1027.83 171.9 1028.92 159.56 1030 153.6C1031.08 147.64 1033.04 138.61 1034.56 134.4C1036.08 130.19 1038.76 126.07 1040.72 123.9C1042.68 121.73 1045.79 119.87 1048.4 119.1C1051.01 118.33 1058.47 118.2 1059.12 118.2C1059.77 118.2 1067.46 119.92 1071.36 121C1075.26 122.08 1082.31 124.44 1086.64 125.8C1090.97 127.16 1097.3 129.1 1101.92 130.6C1106.54 132.1 1114.64 135.64 1119.28 136.4C1123.92 137.16 1129.21 136.53 1134.64 137.3C1140.07 138.06 1152.18 145.9 1157.6 147.8C1163.02 149.7 1168.55 150.02 1172.88 150.7C1177.21 151.38 1183.82 150.99 1188.16 152.6C1192.5 154.21 1199.61 160.39 1203.52 163.1C1207.43 165.81 1212.51 169.25 1215.76 171.7C1219.01 174.15 1222.8 179.63 1226.48 180.4C1230.16 181.17 1238.29 180.63 1241.76 181.3C1245.23 181.97 1248.58 183.61 1250.96 185.1C1253.34 186.59 1256.83 190.95 1258.56 191.8C1260.29 192.65 1262.9 192.8 1263.2 192.8C1263.5 192.8 1267.76 188.86 1269.28 187.1C1270.8 185.34 1273.66 180.4 1273.92 180.4C1274.18 180.4 1276.96 180.54 1278.48 181.3C1280 182.07 1282.25 186.51 1284.64 189.9C1287.03 193.29 1292.32 201.67 1295.36 205.2C1298.4 208.73 1303.27 212.76 1306.08 214.8C1308.89 216.84 1312.6 217.7 1315.2 219.6C1317.8 221.5 1324.04 228.2 1324.4 228.2C1324.76 228.2 1327.64 228.2 1328 228.2C1328.36 228.2 1334.38 216.16 1337.2 211C1340.02 205.84 1344.88 198.03 1347.92 191.8C1350.96 185.57 1355.6 174.04 1358.64 167C1361.68 159.96 1366.76 147.8 1369.36 142.1C1371.96 136.41 1375.23 129.73 1376.96 126.8C1378.69 123.87 1381.25 121.4 1381.6 121.4C1381.95 121.4 1386.6 127.67 1389.2 130.6C1391.8 133.53 1396.88 138.84 1399.92 142.1C1402.96 145.36 1407.39 149.8 1410.64 153.6C1413.89 157.4 1420.06 165.51 1422.88 168.9C1425.7 172.29 1430.12 177.5 1430.56 177.5C1431 177.5 1435.86 169.85 1438.24 167C1440.62 164.15 1444.76 159.85 1447.36 157.4C1449.96 154.95 1453.95 151.87 1456.56 149.7C1459.17 147.53 1463.15 144.66 1465.76 142.1C1468.37 139.54 1472.58 134.31 1474.96 131.6C1477.34 128.89 1480.61 124.63 1482.56 123C1484.51 121.37 1488.33 120.1 1488.72 120.1C1489.11 120.1 1493.58 122.54 1496.4 123.9C1499.22 125.26 1505.39 127.93 1508.64 129.7C1511.89 131.47 1516.32 134.64 1519.36 136.4C1522.4 138.16 1527.27 140.22 1530.08 142.1C1532.89 143.98 1536.82 147.53 1539.2 149.7C1541.58 151.87 1544.72 154.62 1546.88 157.4C1549.04 160.18 1552.45 166.32 1554.48 169.3C1556.51 172.27 1559.17 177.55 1561.2 178.4C1563.23 179.25 1568.32 179.4 1568.8 179.4C1569.28 179.4 1577.48 178.8 1578 178.8C1578.52 178.8 1584.59 182.9 1587.2 184.2C1589.81 185.5 1594.24 187.05 1596.4 188C1598.56 188.95 1600.75 189.27 1602.48 190.9C1604.21 192.53 1606.91 196.38 1608.64 199.5C1610.37 202.62 1613.2 210.46 1614.72 212.9C1616.24 215.34 1619.06 216.7 1619.36 216.7C1619.66 216.7 1623.71 214.26 1625.44 212.9C1627.17 211.54 1630.08 207.87 1631.6 207.1C1633.12 206.33 1635.81 206.2 1636.16 206.2C1636.51 206.2 1641.66 208.51 1643.84 210C1646.02 211.49 1649.36 214.66 1651.52 216.7C1653.68 218.74 1656.96 222.5 1659.12 224.4C1661.28 226.3 1664.41 228.34 1666.8 230.1C1669.19 231.86 1675.57 236.8 1676 236.8C1676.43 236.8 1680.35 235.31 1682.08 234.9C1683.81 234.49 1687.89 233.9 1688.24 233.9C1688.59 233.9 1692.37 234.98 1694.32 235.8C1696.27 236.62 1701.56 239.7 1702 239.7C1702.44 239.7 1709.2 239.7 1709.68 239.7C1710.16 239.7 1718.37 237.8 1718.8 237.8C1719.23 237.8 1723.21 239.03 1724.96 239.7C1726.71 240.37 1728.96 241.96 1731.12 242.5C1733.28 243.04 1738.72 243.33 1740.24 243.5"/>
<path stroke="#ff3d3d" d="M227.76 140.8C227.97 139.73 228.62 135.68 229.04 134.4C229.46 133.13 230.64 131.8 230.72 131.8C230.8 131.8 231.44 132.78 231.76 138.3C232.08 143.83 232.56 164.03 232.96 176.5C233.36 188.97 234.5 226.3 234.56 226.3C234.62 226.3 234.95 213.6 235.12 207.1C235.29 200.6 235.71 180.4 235.76 180.4C235.81 180.4 236.63 193.55 236.96 199.5C237.29 205.45 237.8 214.27 238.08 222.4C238.36 230.53 238.77 247.14 238.96 256.9C239.15 266.66 239.29 275.58 239.44 291.3C239.59 307.03 239.9 357.62 240 367.9C240.1 378.19 240.02 369.72 240.16 380C240.3 390.29 242.62 514.62 243.28 571.3C243.94 627.98 244.22 731.68 244.8 780.1C245.38 828.52 246.5 871.49 247.36 913.1C248.22 954.71 250.68 1073.8 250.88 1073.8C251.08 1073.8 253.53 954.71 254.4 913.1C255.27 871.49 256.34 828.52 257.04 780.1C257.74 731.68 258.71 627.98 259.36 571.3C260.01 514.62 261.19 419.67 261.6 380C262.01 340.33 262.02 314.7 262.24 291.3C262.46 267.9 262.93 236.74 263.12 214.8C263.31 192.86 263.57 136.4 263.6 136.4C263.63 136.4 264.13 136.4 264.24 136.4C264.35 136.4 267.27 191.23 268.48 214.8C269.69 238.37 272.65 302.8 272.8 302.8C272.95 302.8 273.76 302.8 273.84 302.8C273.92 302.8 274.95 274.8 275.52 262.6C276.09 250.4 277.3 226.18 277.84 216.7C278.38 207.22 278.82 204.1 279.36 195.7C279.9 187.3 281.11 160.8 281.68 157.4C282.25 154 283.28 153.4 283.36 153.4C283.44 153.4 284.04 154 284.4 157.4C284.76 160.8 285.42 195.83 285.92 214.8C286.42 233.77 287.48 269.61 287.92 291.3C288.36 312.99 288.76 357.62 289.04 367.9C289.32 378.19 289.36 369.72 289.92 380C290.48 390.29 291.87 514.62 292.96 571.3C294.05 627.98 296.3 737.1 297.6 780.1C298.9 823.1 301.08 850.55 302.16 874.8C303.24 899.05 304.34 933.68 305.22 951.3C306.1 968.92 307.66 990.8 308.37 999.2C309.08 1007.6 310.09 1010.6 310.22 1010.6C310.35 1010.6 311.81 1007.6 312.97 999.2C314.12 990.8 316.19 971.63 318.38 951.3C320.56 930.97 325.65 882.8 328.38 855.7C331.12 828.6 335.25 786.73 337.66 760C340.08 733.27 343.33 693.73 345.42 667C347.5 640.27 350.61 598.4 352.36 571.3C354.11 544.2 356.38 502.8 357.77 475.7C359.15 448.6 361.01 406.12 362.13 380C363.25 353.88 364.66 314.7 365.68 291.3C366.7 267.9 368.42 233.77 369.31 214.8C370.2 195.83 371.38 167.29 371.98 157.4C372.57 147.51 373.38 145 373.5 145C373.63 145 374.84 146.73 376.33 149.7C377.81 152.68 381.83 160.7 384 166C386.17 171.3 389.73 182.85 391.68 187.1C393.63 191.35 397.41 196 397.76 196C398.11 196 401.53 194.69 403.92 189.9C406.31 185.11 412.03 167.75 414.64 162.2C417.25 156.65 420.16 153.14 422.32 150.7C424.48 148.26 429.56 145 429.92 145C430.28 145 434.79 145 435.04 145C435.29 145 438.01 149.14 438.88 151.7C439.75 154.26 440.01 157.69 441.2 163.1C442.39 168.51 445.66 183.94 447.28 189.9C448.9 195.86 452.36 205.2 452.64 205.2C452.92 205.2 456.31 195.87 457.28 191.8C458.25 187.73 458.66 183 459.52 176.5C460.38 170 462.44 149.98 463.36 145.9C464.28 141.82 465.87 141.1 466 141.1C466.13 141.1 467.4 151.03 468 157.4C468.6 163.78 469.48 177.97 470.24 186.1C471 194.23 472.27 208.57 473.36 214.8C474.45 221.03 477.66 230.1 477.92 230.1C478.18 230.1 481.39 224.03 482.48 218.6C483.57 213.17 484.73 199.11 485.6 191.8C486.47 184.49 487.67 172.68 488.64 167C489.61 161.32 491.51 153.06 492.48 151.7C493.45 150.34 495.28 150.1 495.52 150.1C495.76 150.1 499.58 157.05 500.88 159.3C502.18 161.55 503.75 165.15 504.72 166C505.69 166.85 507.57 167 507.76 167C507.95 167 510.41 165.46 511.6 164.1C512.79 162.74 514.86 158.62 516.16 157.4C517.46 156.18 520.58 155.5 520.8 155.5C521.02 155.5 522.98 157.54 523.84 159.3C524.7 161.06 526.66 167.9 526.88 167.9C527.1 167.9 531.3 167.9 531.52 167.9C531.74 167.9 533.7 171.02 534.56 171.7C535.42 172.38 537.45 172.7 537.6 172.7C537.75 172.7 539.26 167.81 539.92 165.1C540.58 162.39 541.38 155.91 542.24 153.6C543.1 151.29 545.81 148.8 546 148.8C546.19 148.8 548.15 151.58 549.12 155.5C550.09 159.42 551.47 168.1 552.88 176.5C554.29 184.9 557.29 203.95 559.04 214.8C560.79 225.65 563.68 243.61 565.2 253.1C566.72 262.59 568.25 273.67 569.76 281.8C571.27 289.93 574.11 303.73 575.84 310.5C577.57 317.27 580.04 324.46 582 329.6C583.96 334.74 587.73 341.93 589.68 346.8C591.63 351.67 594.24 359.67 595.76 364C597.28 368.34 599.1 374.14 600.4 377.4C601.7 380.66 604.74 387 604.96 387C605.18 387 607.24 382.56 608 379.3C608.76 376.04 609.56 371.04 610.32 364C611.08 356.96 612.39 339.9 613.36 329.6C614.33 319.3 616.01 302.14 617.2 291.3C618.39 280.46 620.24 263.94 621.76 253.1C623.28 242.26 625.96 224.29 627.92 214.8C629.88 205.31 633.65 192.87 635.6 186.1C637.55 179.33 639.95 170.26 641.68 167C643.41 163.74 647.49 163.1 647.84 163.1C648.19 163.1 652.76 174.05 653.92 176.5C655.08 178.95 655.06 177.68 656 180.4C656.94 183.12 659.26 191.92 660.56 195.7C661.86 199.48 664.9 207.1 665.2 207.1C665.5 207.1 669.76 193.14 671.28 186.1C672.8 179.06 674.62 163.63 675.92 157.4C677.22 151.17 679.29 144.57 680.48 142.1C681.67 139.63 684.06 139.2 684.32 139.2C684.58 139.2 687.83 146.31 689.68 149.7C691.53 153.09 695.41 160.52 697.36 163.1C699.31 165.68 703.14 167.9 703.44 167.9C703.74 167.9 707.78 167.9 708.08 167.9C708.38 167.9 712.65 163.49 714.16 161.2C715.67 158.9 717.42 153.73 718.72 151.7C720.02 149.67 723.1 146.9 723.36 146.9C723.62 146.9 726.83 147.03 727.92 147.8C729.01 148.57 729.95 152.78 731.04 157.4C732.13 162.02 734.09 172.81 735.6 180.4C737.11 187.99 739.95 202.87 741.68 211C743.41 219.13 746.32 232.39 747.84 237.8C749.36 243.21 751.1 246.9 752.4 249.2C753.7 251.49 756.74 254 757.04 254C757.34 254 761.6 252.59 763.12 249.2C764.64 245.81 766.46 237.14 767.76 230.1C769.06 223.06 771.03 207.09 772.32 199.5C773.61 191.91 775.58 181.66 776.88 176.5C778.18 171.34 780.22 165.95 781.52 163.1C782.82 160.25 784.35 157.51 786.08 156.4C787.81 155.29 793.28 155.1 793.76 155.1C794.24 155.1 802.44 155.5 802.96 155.5C803.48 155.5 811.64 154.5 812.16 154.5C812.68 154.5 818.47 154.88 821.28 155.5C824.09 156.12 828.31 157.82 832 158.9C835.69 159.98 843.23 161.95 847.36 163.1C851.49 164.25 857.44 165.91 861.12 167C864.8 168.09 872.83 170.8 873.36 170.8C873.89 170.8 879.38 170.8 880 170.8C880.62 170.8 890.94 167.63 895.28 166C899.62 164.37 906.3 160.79 910.64 159.3C914.98 157.81 922.02 156.58 925.92 155.5C929.82 154.42 934.91 152.38 938.16 151.7C941.41 151.02 947.93 150.7 948.88 150.7C949.83 150.7 965.55 151.43 971.84 151.7C978.13 151.97 989.38 151.84 993.28 152.6C997.18 153.36 997.63 155.36 999.36 159.3C1001.09 163.24 1003.79 174.44 1005.52 180.4C1007.25 186.36 1009.87 196.8 1011.6 201.4C1013.33 206 1016.03 210.46 1017.76 212.9C1019.49 215.34 1023.54 218.6 1023.84 218.6C1024.14 218.6 1027.39 218.03 1028.48 214.8C1029.57 211.57 1030.43 201.13 1031.52 195.7C1032.61 190.27 1034.64 180.71 1036.16 176.5C1037.68 172.29 1040.08 167.62 1042.24 166C1044.4 164.39 1050.92 164.1 1051.44 164.1C1051.96 164.1 1060.08 164.1 1060.64 164.1C1061.2 164.1 1068.32 165.05 1071.36 166C1074.4 166.95 1078.83 168.76 1082.08 170.8C1085.33 172.84 1091.21 178.37 1094.32 180.4C1097.43 182.43 1100.46 183.34 1104 185.1C1107.54 186.86 1114.94 191.03 1119.28 192.8C1123.62 194.57 1129.21 195.84 1134.64 197.6C1140.07 199.36 1152.18 204.86 1157.6 205.2C1163.02 205.54 1168.34 205.46 1172.88 205.6C1177.42 205.74 1185.34 205.69 1189.68 206.2C1194.02 206.71 1200.04 211.9 1203.52 213.8C1207 215.7 1211.43 218.38 1214.24 219.6C1217.05 220.82 1222.93 222.4 1223.36 222.4C1223.79 222.4 1228 219.94 1229.52 214.8C1231.04 209.66 1232.82 192.74 1234.08 186.1C1235.34 179.46 1237.43 171.2 1238.4 167.9C1239.37 164.6 1240.81 162.8 1240.96 162.8C1241.11 162.8 1242.73 164.6 1243.6 167.9C1244.47 171.2 1246.08 179.99 1247.12 186.1C1248.16 192.21 1249.77 205.86 1250.96 211C1252.15 216.14 1255.26 222.4 1255.52 222.4C1255.78 222.4 1258.97 219.94 1260.16 214.8C1261.35 209.66 1262.95 194.23 1263.92 186.1C1264.89 177.97 1266.17 162.25 1267.04 157.4C1267.91 152.56 1269.91 151.7 1270.08 151.7C1270.25 151.7 1272.15 152.27 1273.12 155.5C1274.09 158.73 1275.77 172.81 1276.96 180.4C1278.15 187.99 1280.22 202.6 1281.52 209.1C1282.82 215.6 1284.86 223.41 1286.16 226.3C1287.46 229.19 1290.42 229.7 1290.72 229.7C1291.02 229.7 1295.36 226.68 1296.88 222.4C1298.4 218.12 1300.14 206 1301.44 199.5C1302.74 193 1304.78 182.19 1306.08 176.5C1307.38 170.81 1309.35 162.69 1310.64 159.3C1311.93 155.91 1313.47 153.7 1315.2 152.6C1316.93 151.49 1322.52 151.3 1322.88 151.3C1323.24 151.3 1325.97 151.36 1328 151.7C1330.03 152.04 1334.82 153.05 1337.2 154C1339.58 154.95 1342.64 157.15 1344.8 158.4C1346.96 159.65 1349.87 162.55 1352.48 162.8C1355.09 163.06 1362.59 163.1 1363.2 163.1C1363.81 163.1 1373.27 162.8 1373.92 162.8C1374.57 162.8 1383.12 164.86 1386.16 165.4C1389.2 165.94 1394.84 166.6 1395.36 166.6C1395.88 166.6 1402.18 165.86 1404.56 165.1C1406.94 164.33 1409.56 162.02 1412.16 161.2C1414.76 160.38 1420.06 159.7 1422.88 159.3C1425.7 158.9 1429.9 158.94 1432.08 158.4C1434.26 157.86 1436.08 156.05 1438.24 155.5C1440.4 154.95 1444.98 154.77 1447.36 154.5C1449.74 154.23 1454.6 153.6 1455.04 153.6C1455.48 153.6 1462.29 155.1 1462.72 155.1C1463.15 155.1 1468.16 154.81 1470.32 154.1C1472.48 153.39 1477.44 150.1 1478 150.1C1478.56 150.1 1489.63 150.1 1490.24 150.1C1490.85 150.1 1496.83 149.25 1499.44 148.8C1502.05 148.35 1506.04 147.44 1508.64 146.9C1511.24 146.36 1517.24 145 1517.76 145C1518.28 145 1524.35 146.09 1526.96 146.9C1529.57 147.71 1533.34 149.89 1536.16 150.7C1538.98 151.51 1544.64 151.92 1546.88 152.6C1549.12 153.28 1550.19 154.01 1552 155.5C1553.81 156.99 1557.73 161.47 1559.68 163.1C1561.63 164.73 1565.41 167 1565.76 167C1566.11 167 1570.07 164.92 1571.92 164.1C1573.77 163.28 1578.28 161.2 1578.8 161.2C1579.32 161.2 1589.61 163.1 1590.24 163.1C1590.87 163.1 1600.44 159.3 1600.96 159.3C1601.48 159.3 1606.91 161.34 1608.64 163.1C1610.37 164.86 1611.79 169.66 1613.2 171.7C1614.61 173.74 1618.26 177.5 1618.56 177.5C1618.86 177.5 1622.29 173.38 1623.92 170.8C1625.55 168.22 1628.35 161.47 1630.08 159.3C1631.81 157.13 1635.77 155.5 1636.16 155.5C1636.55 155.5 1641.45 157.67 1643.84 159.3C1646.23 160.93 1650.66 165.37 1653.04 167C1655.42 168.63 1660.12 170.8 1660.64 170.8C1661.16 170.8 1668.75 170.74 1671.36 170.4C1673.97 170.06 1676.65 169.33 1679.04 167.9C1681.43 166.47 1685.42 161.93 1688.24 160.3C1691.06 158.67 1695.49 157.62 1698.96 156.4C1702.43 155.18 1709.25 153.19 1712.72 151.7C1716.19 150.21 1722.92 145.9 1723.44 145.9C1723.96 145.9 1730.64 145.9 1731.12 145.9C1731.6 145.9 1738.72 145.9 1740.24 145.9"/>
</g></g>
<g fill="#000">
<rect x="263.2" y="25.85" width="6.2" height="1185.35"/>
<rect x="251" y="1205.9" width="1915.3" height="5.3"/>
<rect x="236" y="1086.5" width="28.2" height="6"/>
<rect x="251.3" y="968.65" width="12.9" height="6"/>
<rect x="236" y="850.8" width="28.2" height="6"/>
<rect x="251.3" y="732.95" width="12.9" height="6"/>
<rect x="236" y="615.1" width="28.2" height="6"/>
<rect x="251.3" y="497.25" width="12.9" height="6"/>
<rect x="236" y="379.4" width="28.2" height="6"/>
<rect x="251.3" y="261.55" width="12.9" height="6"/>
<rect x="236" y="143.7" width="28.2" height="6"/>
<rect x="251.3" y="25.85" width="12.9" height="6"/>
<rect x="289.65" y="1205.9" width="6.3" height="25.6"/>
<rect x="423.22" y="1205.9" width="6.3" height="13.6"/>
<rect x="556.78" y="1205.9" width="6.3" height="25.6"/>
<rect x="690.35" y="1205.9" width="6.3" height="13.6"/>
<rect x="823.91" y="1205.9" width="6.3" height="25.6"/>
<rect x="957.48" y="1205.9" width="6.3" height="13.6"/>
<rect x="1091.04" y="1205.9" width="6.3" height="25.6"/>
<rect x="1224.6" y="1205.9" width="6.3" height="13.6"/>
<rect x="1358.17" y="1205.9" width="6.3" height="25.6"/>
<rect x="1491.73" y="1205.9" width="6.3" height="13.6"/>
<rect x="1625.3" y="1205.9" width="6.3" height="25.6"/>
<rect x="1758.86" y="1205.9" width="6.3" height="13.6"/>
<rect x="1892.43" y="1205.9" width="6.3" height="25.6"/>
<rect x="2025.99" y="1205.9" width="6.3" height="13.6"/>
<rect x="2159.56" y="1205.9" width="6.3" height="25.6"/>
</g>
<g font-family="'Liberation Serif', 'Times New Roman', serif">
<text transform="translate(293.3 1284.6) scale(1.31 1)" font-size="50" text-anchor="middle" fill="#000">500</text>
<text transform="translate(560.43 1284.6) scale(1.31 1)" font-size="50" text-anchor="middle" fill="#000">1000</text>
<text transform="translate(827.56 1284.6) scale(1.31 1)" font-size="50" text-anchor="middle" fill="#000">1500</text>
<text transform="translate(1094.69 1284.6) scale(1.31 1)" font-size="50" text-anchor="middle" fill="#000">2000</text>
<text transform="translate(1361.82 1284.6) scale(1.31 1)" font-size="50" text-anchor="middle" fill="#000">2500</text>
<text transform="translate(1628.95 1284.6) scale(1.31 1)" font-size="50" text-anchor="middle" fill="#000">3000</text>
<text transform="translate(1896.08 1284.6) scale(1.31 1)" font-size="50" text-anchor="middle" fill="#000">3500</text>
<text transform="translate(2163.21 1284.6) scale(1.31 1)" font-size="50" text-anchor="middle" fill="#000">4000</text>
<text transform="translate(216.5 1103.5) scale(1.31 1)" font-size="50" text-anchor="end" fill="#000">92</text>
<text transform="translate(216.5 867.8) scale(1.31 1)" font-size="50" text-anchor="end" fill="#000">94</text>
<text transform="translate(216.5 632.1) scale(1.31 1)" font-size="50" text-anchor="end" fill="#000">96</text>
<text transform="translate(216.5 396.4) scale(1.31 1)" font-size="50" text-anchor="end" fill="#000">98</text>
<text transform="translate(216.5 160.7) scale(1.31 1)" font-size="50" text-anchor="end" fill="#000">100</text>
<text transform="translate(1215.5 1390.3) scale(1.274 1)" font-size="62" text-anchor="middle">Wavenumber, cm<tspan font-size="41.54" dy="-24.99">-1</tspan></text>
<text transform="translate(85 845.5) rotate(-90) scale(1.2 1)" font-size="62" font-weight="bold" fill="#000" x="0 62.17 96.29 119 144.58 173.04 192.95 235.57 249.79 266.83 283.87 309.45 337.9 360.61">%Transmittance</text>
<text transform="translate(426 1134.5) rotate(-90) scale(1.33 1)" font-size="34" fill="#ff0000" x="0 12.59 25.18 37.77 44.07 56.66 69.25 81.84">678.8489</text>
<text transform="translate(833.7 389.5) rotate(-90) scale(1.33 1)" font-size="34" fill="#000" x="0 12.59 25.18 37.77 50.36 56.66 69.25 81.84">1515.839</text>
<text transform="translate(957.4 439.5) rotate(-90) scale(1.33 1)" font-size="34" fill="#000" x="0 12.59 25.18 37.77 50.36 56.66 69.25 81.84">1724.122</text>
<text transform="translate(1300.5 389.5) rotate(-90) scale(1.33 1)" font-size="34" fill="#000" x="0 12.59 25.18 37.77 50.36 56.66 69.25 81.84">2352.829</text>
<text transform="translate(1552.2 378) rotate(-90) scale(1.33 1)" font-size="34" fill="#000" x="0 12.59 25.18 37.77 50.36 56.66 69.25">2815.68</text>
<text transform="translate(1613.8 492.5) rotate(-90) scale(1.33 1)" font-size="34" fill="#000" x="0 12.59 25.18 37.77 50.36 56.66 69.25 81.84">2888.965</text>
<text transform="translate(1655.5 360.8) rotate(-90) scale(1.33 1)" font-size="34" fill="#000" x="0 12.59 25.18 37.77 50.36 56.66 69.25">2973.82</text>
<text transform="translate(2050.6 350.3) rotate(-90) scale(1.33 1)" font-size="34" fill="#000" x="0 12.59 25.18 37.77 50.36 56.66 69.25">3737.52</text>
<path fill="#000" fill-rule="evenodd" d="M1612.8 559.3H2112.3V682H1612.8ZM1615.8 561.3V680H2109.3V561.3Z"/>
<line x1="1613.5" x2="1764" y1="589.5" y2="589.5" stroke="#737373" stroke-width="8.8" stroke-linecap="round"/>
<text transform="translate(1778.3 605.7) scale(1.276 1)" font-size="51" text-anchor="start" fill="#000">Graphene</text>
<line x1="1613.5" x2="1764" y1="652" y2="652" stroke="#ff3d3d" stroke-width="8.8" stroke-linecap="round"/>
<text transform="translate(1778.3 669.3) scale(1.276 1)" font-size="51" text-anchor="start" fill="#000">M-Graphene</text>
</g>
</g>
<text x="1108 1137 1187.2" y="3365.2" font-family="'Liberation Serif', 'Times New Roman', serif" font-size="88">(<tspan font-weight="bold" font-size="86">b</tspan>)</text>
</svg>
</body></html>
